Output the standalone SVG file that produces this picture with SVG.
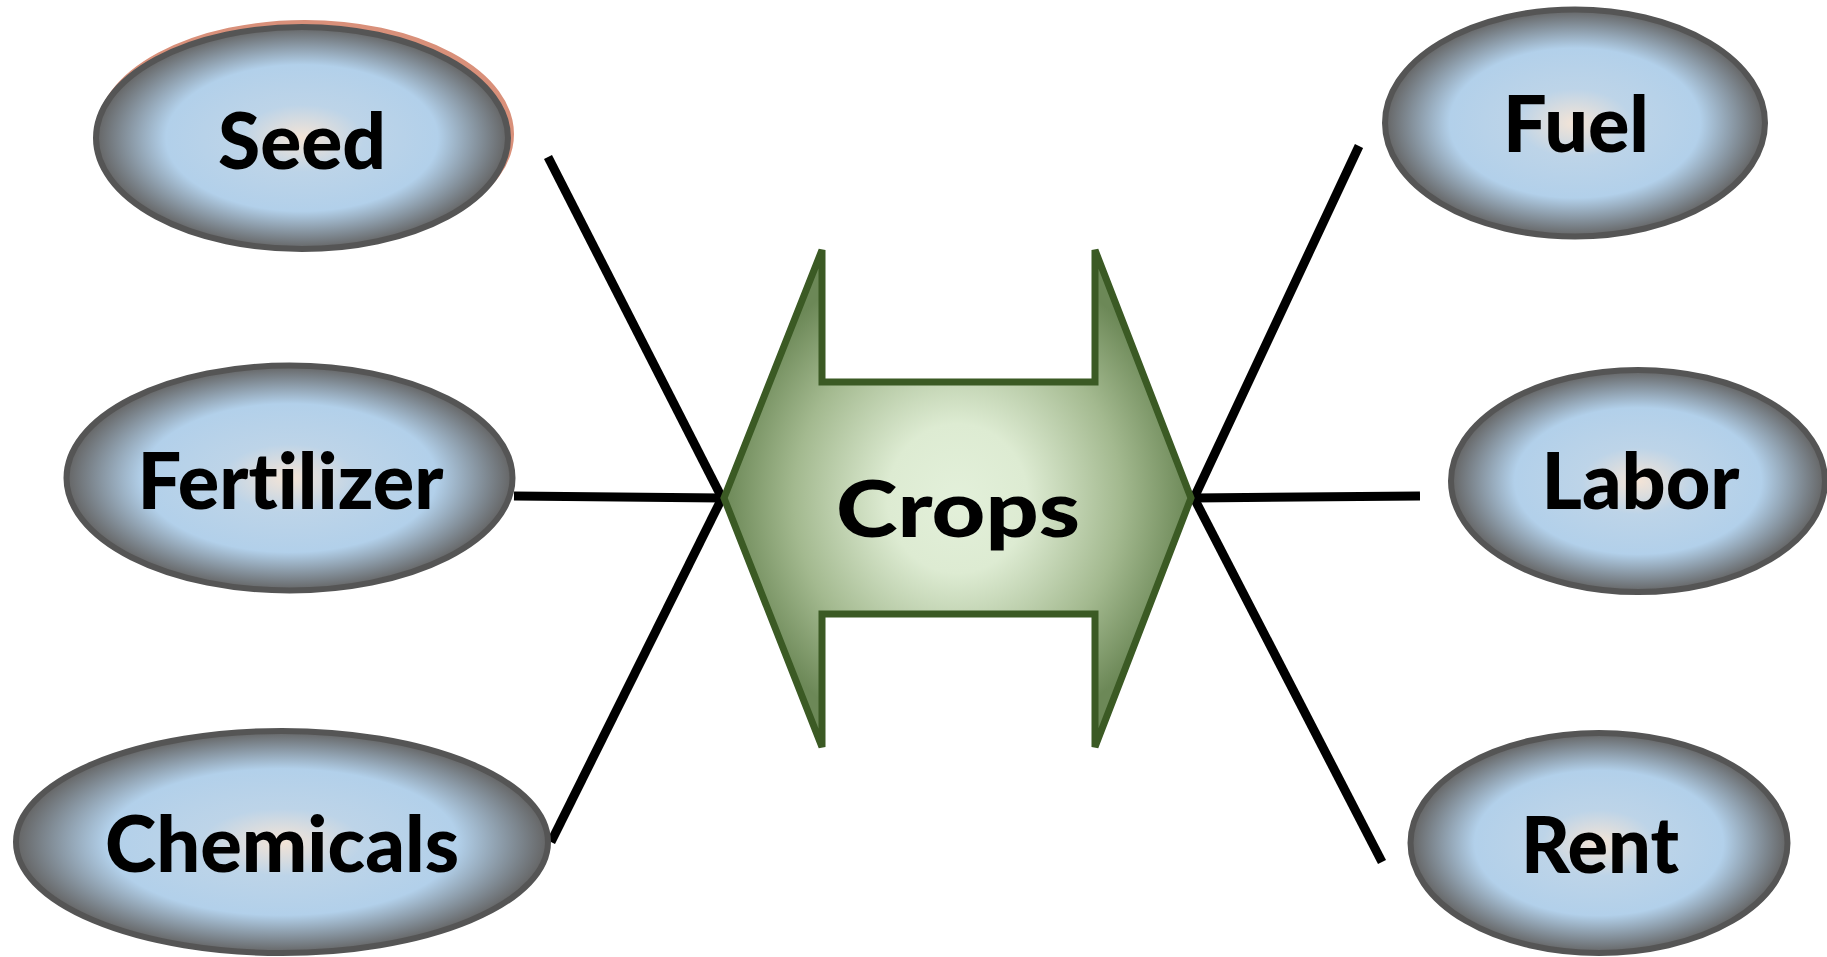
<svg xmlns="http://www.w3.org/2000/svg" width="1827" height="957" viewBox="0 0 1827 957">
<defs>
<radialGradient id="ovalFill" cx="50%" cy="50%" r="50%">
<stop offset="0" stop-color="#F4E4D6"/>
<stop offset="0.3" stop-color="#BDD4E8"/>
<stop offset="0.66" stop-color="#B2D0EA"/>
<stop offset="1" stop-color="#646464"/>
</radialGradient>
<radialGradient id="arrowFill" cx="50%" cy="50%" r="50%">
<stop offset="0" stop-color="#E3F0DA"/>
<stop offset="0.3" stop-color="#DDEBD2"/>
<stop offset="0.7" stop-color="#A3B98F"/>
<stop offset="1" stop-color="#6C8857"/>
</radialGradient>
<style>
.oval{fill:url(#ovalFill);stroke:#555555;stroke-width:6}
.lbl{font-family:Lato,"Open Sans","Liberation Sans",sans-serif;font-weight:900;font-size:78px;fill:#000;text-anchor:middle;font-variant-ligatures:none}
.conn{stroke:#000;stroke-width:9;fill:none;stroke-linecap:butt}
</style>
</defs>
<rect width="1827" height="957" fill="#FFFFFF"/>
<g id="connectors">
<line class="conn" x1="548" y1="157" x2="722" y2="498"/>
<line class="conn" x1="514" y1="496" x2="722" y2="498"/>
<line class="conn" x1="551" y1="842" x2="722" y2="498"/>
<line class="conn" x1="1359" y1="146" x2="1194" y2="498"/>
<line class="conn" x1="1420" y1="496" x2="1194" y2="498"/>
<line class="conn" x1="1382" y1="862" x2="1194" y2="498"/>
</g>
<g id="crops">
<polygon points="724,498 822,250 822,382 1095,382 1095,250 1191,498 1095,747 1095,614 822,614 822,747" fill="url(#arrowFill)" stroke="#3B5A24" stroke-width="7" stroke-linejoin="miter"/>
<text class="lbl" x="958" y="537" font-size="110" textLength="244" lengthAdjust="spacingAndGlyphs">Crops</text>
</g>
<g id="seed">
<ellipse cx="305" cy="134" rx="206" ry="111" fill="none" stroke="#D9907A" stroke-width="6"/>
<ellipse class="oval" cx="302" cy="138" rx="206" ry="111"/>
<text class="lbl" x="302" y="169" textLength="168" lengthAdjust="spacingAndGlyphs">Seed</text>
</g>
<g id="fertilizer">
<ellipse class="oval" cx="289.5" cy="478" rx="223" ry="112.5"/>
<text class="lbl" x="290.5" y="509" textLength="306" lengthAdjust="spacingAndGlyphs">Fertilizer</text>
</g>
<g id="chemicals">
<ellipse class="oval" cx="282" cy="842" rx="266" ry="111"/>
<text class="lbl" x="282" y="872" textLength="354" lengthAdjust="spacingAndGlyphs">Chemicals</text>
</g>
<g id="fuel">
<ellipse class="oval" cx="1575" cy="123" rx="190" ry="113.5"/>
<text class="lbl" x="1576" y="152" textLength="146" lengthAdjust="spacingAndGlyphs">Fuel</text>
</g>
<g id="labor">
<ellipse class="oval" cx="1638" cy="481" rx="187" ry="111"/>
<text class="lbl" x="1640.5" y="509" textLength="198" lengthAdjust="spacingAndGlyphs">Labor</text>
</g>
<g id="rent">
<ellipse class="oval" cx="1599" cy="843" rx="188.5" ry="110"/>
<text class="lbl" x="1600" y="873" textLength="158" lengthAdjust="spacingAndGlyphs">Rent</text>
</g>
</svg>
